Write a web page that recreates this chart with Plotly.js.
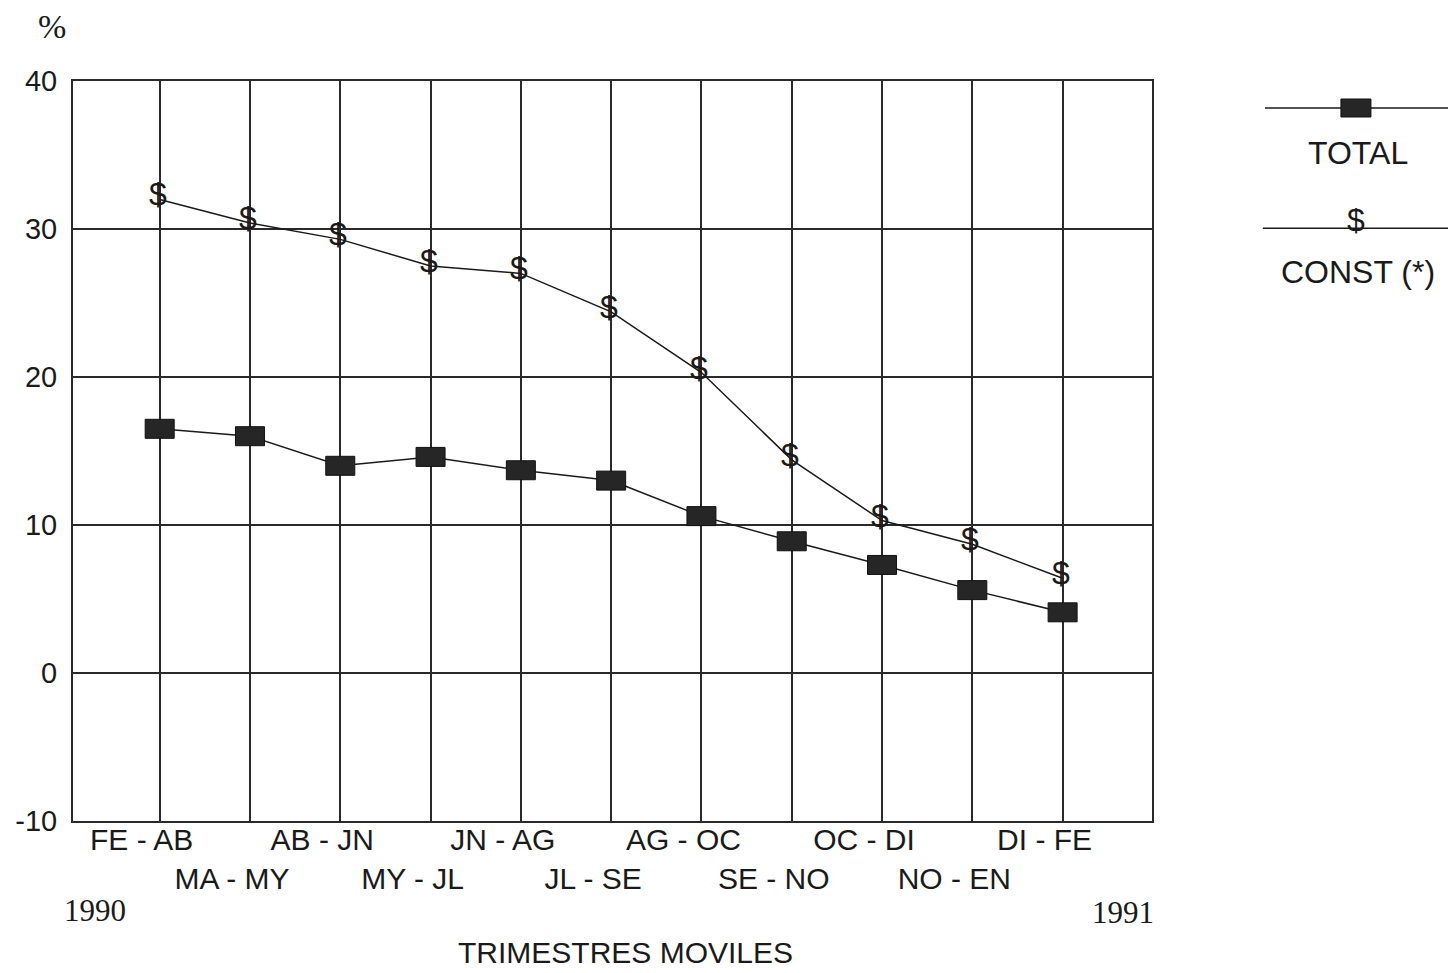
<!DOCTYPE html>
<html>
<head>
<meta charset="utf-8">
<script src="https://cdn.plot.ly/plotly-3.0.1.min.js"></script>
<style>html,body{margin:0;padding:0;background:#fff;}#chart{width:1448px;height:973px;}</style>
</head>
<body>
<div id="chart"></div>
<script>
// ---- data ----
const categories = ['FE - AB','MA - MY','AB - JN','MY - JL','JN - AG','JL - SE','AG - OC','SE - NO','OC - DI','NO - EN','DI - FE'];
const total = [16.5, 16.0, 14.0, 14.6, 13.7, 13.0, 10.6, 8.9, 7.3, 5.6, 4.1];
const constant = [32.0, 30.4, 29.3, 27.5, 27.0, 24.4, 20.3, 14.4, 10.3, 8.7, 6.4];
const yTicks = [-10, 0, 10, 20, 30, 40];
const seriesNames = ['TOTAL', 'CONST (*)'];
const constMarker = '$';

const sans = '"Liberation Sans", Arial, sans-serif';
const serif = '"Liberation Serif", "Times New Roman", serif';
const ink = '#1a1a1a';
const grid = '#2a2a2a';

const tickText = categories.map((c, i) => i % 2 === 0 ? c + '<br> ' : ' <br>' + c);

const traces = [
  {x: categories, y: constant, type: 'scatter', mode: 'lines', line: {color: ink, width: 1.5}, hoverinfo: 'x+y', name: seriesNames[1]},
  {x: categories, y: total, type: 'scatter', mode: 'lines', line: {color: ink, width: 1.5}, hoverinfo: 'x+y', name: seriesNames[0]}
];

// rectangular TOTAL markers anchored at data points
const shapes = total.map((v, i) => ({
  type: 'rect', xref: 'x', yref: 'y', xsizemode: 'pixel', ysizemode: 'pixel',
  xanchor: categories[i], yanchor: v, x0: -14.5, x1: 14.5, y0: -9.5, y1: 9.5,
  fillcolor: '#262626', line: {color: '#111', width: 1}, layer: 'above'
}));

// $ markers for CONST
const annotations = constant.map((v, i) => ({
  x: categories[i], y: v, xref: 'x', yref: 'y', text: constMarker, showarrow: false,
  xanchor: 'center', yanchor: 'middle',
  xshift: -2, yshift: 5, font: {family: sans, size: 32, color: ink}
}));

// legend (drawn manually)
shapes.push({type: 'line', xref: 'paper', yref: 'paper', x0: 1.1047, x1: 1.275, y0: 0.9635, y1: 0.9635, line: {color: ink, width: 1.5}});
shapes.push({type: 'rect', xref: 'paper', yref: 'paper', xsizemode: 'pixel', ysizemode: 'pixel', xanchor: 1.189, yanchor: 0.9635, x0: -15, x1: 15, y0: -9, y1: 9, fillcolor: '#262626', line: {color: '#111', width: 1}});
shapes.push({type: 'line', xref: 'paper', yref: 'paper', x0: 1.1027, x1: 1.275, y0: 0.801, y1: 0.801, line: {color: ink, width: 1.5}});
annotations.push({x: 1.189, y: 0.801, xref: 'paper', yref: 'paper', text: constMarker, showarrow: false, xanchor: 'center', yanchor: 'middle', yshift: 8, font: {family: sans, size: 32, color: ink}});
annotations.push({x: 1.191, y: 0.9027, xref: 'paper', yref: 'paper', text: seriesNames[0], showarrow: false, xanchor: 'center', yanchor: 'middle', font: {family: sans, size: 32, color: ink}});
annotations.push({x: 1.191, y: 0.742, xref: 'paper', yref: 'paper', text: seriesNames[1], showarrow: false, xanchor: 'center', yanchor: 'middle', font: {family: sans, size: 32, color: ink}});

// other texts
annotations.push({x: -0.0195, y: 1.0743, xref: 'paper', yref: 'paper', text: '%', showarrow: false, xanchor: 'center', yanchor: 'middle', font: {family: serif, size: 34, color: ink}});
annotations.push({x: -0.0102, y: -0.1216, xref: 'paper', yref: 'paper', text: '1990', showarrow: false, xanchor: 'left', yanchor: 'middle', font: {family: serif, size: 31, color: ink}});
annotations.push({x: 1.0037, y: -0.123, xref: 'paper', yref: 'paper', text: '1991', showarrow: false, xanchor: 'right', yanchor: 'middle', font: {family: serif, size: 31, color: ink}});
annotations.push({x: 0.512, y: -0.178, xref: 'paper', yref: 'paper', text: 'TRIMESTRES MOVILES', showarrow: false, xanchor: 'center', yanchor: 'middle', font: {family: sans, size: 30, color: ink}});

const layout = {
  width: 1448, height: 973,
  margin: {l: 73, r: 296, t: 81, b: 152},
  paper_bgcolor: '#ffffff', plot_bgcolor: '#ffffff',
  showlegend: false,
  xaxis: {
    type: 'category', range: [-0.96, 10.99],
    tickmode: 'array', tickvals: categories, ticktext: tickText, tickangle: 0,
    showgrid: true, gridcolor: grid, gridwidth: 2,
    showline: true, linecolor: grid, linewidth: 2, mirror: true,
    ticks: '', ticklabelshift: -18, ticklabelstandoff: -9,
    tickfont: {family: sans, size: 30, color: ink},
    fixedrange: true
  },
  yaxis: {
    range: [-10, 40], tickmode: 'array', tickvals: yTicks, ticktext: yTicks.map(String),
    showgrid: true, gridcolor: grid, gridwidth: 2,
    zeroline: true, zerolinecolor: grid, zerolinewidth: 2,
    showline: true, linecolor: grid, linewidth: 2, mirror: true,
    ticks: '', ticklabelstandoff: 8,
    tickfont: {family: sans, size: 29, color: ink},
    fixedrange: true
  },
  shapes: shapes,
  annotations: annotations
};

Plotly.newPlot('chart', traces, layout, {displayModeBar: false, staticPlot: true});
</script>
</body>
</html>
